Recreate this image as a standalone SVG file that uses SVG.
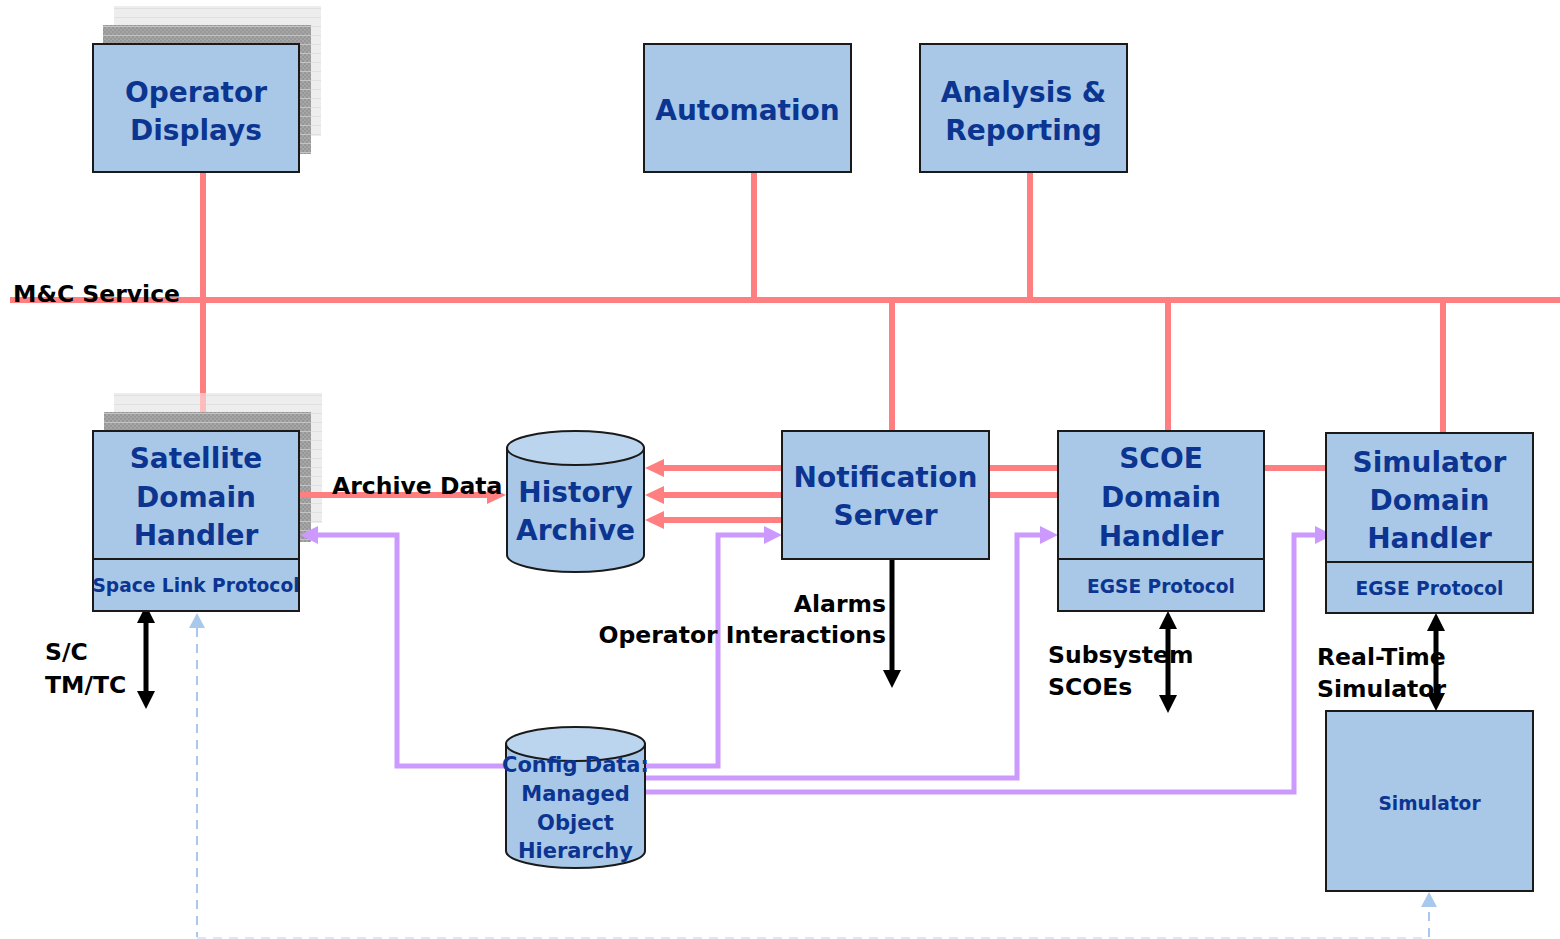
<svg xmlns="http://www.w3.org/2000/svg" width="1560" height="939" viewBox="0 0 1560 939">
  <style>
    .box { fill: #a9c8e8; stroke: #1a1a1a; stroke-width: 2; }
    .cyl { fill: #a9c8e8; stroke: #1a1a1a; stroke-width: 2; }
    .cyltop { fill: #bcd5ee; stroke: #1a1a1a; stroke-width: 2; }
    .big { font-family: "DejaVu Sans", "Liberation Sans", sans-serif; font-weight: bold; font-size: 28px; fill: #0b3590; text-anchor: middle; }
    .mid { font-family: "DejaVu Sans", "Liberation Sans", sans-serif; font-weight: bold; font-size: 21px; fill: #0b3590; text-anchor: middle; }
    .small { font-family: "DejaVu Sans", "Liberation Sans", sans-serif; font-weight: bold; font-size: 18.6px; fill: #0b3590; text-anchor: middle; }
    .lbl { font-family: "DejaVu Sans", "Liberation Sans", sans-serif; font-weight: bold; font-size: 23.5px; fill: #000; }
    .bus { stroke: #ff7f80; stroke-width: 6; fill: none; }
    .bus-faint { stroke: #ffbcbc; stroke-width: 6; fill: none; }
    .cfg { stroke: #cc99ff; stroke-width: 5; fill: none; }
    .blk { stroke: #000; stroke-width: 5; fill: none; }
    .dash { stroke: #a8c8ec; stroke-width: 2; stroke-dasharray: 9 7; fill: none; }
    .dash-faint { stroke: #dde7f5; stroke-width: 2; stroke-dasharray: 9 7; fill: none; }
    .redhead { fill: #ff7f80; }
    .purhead { fill: #cc99ff; }
    .blkhead { fill: #000; }
    .bluehead { fill: #a8c8ec; }
    .back { fill: url(#lightStack); }
    .mid-stack { fill: url(#darkStack); }
  </style>
  <defs>
    <pattern id="lightStack" width="6" height="9" patternUnits="userSpaceOnUse">
      <rect width="6" height="9" fill="#ededed"/>
      <rect y="8" width="6" height="1" fill="#e0e0e0"/>
    </pattern>
    <pattern id="darkStack" width="4" height="9" patternUnits="userSpaceOnUse">
      <rect width="4" height="9" fill="#a6a6a6"/>
      <rect x="0" y="0" width="2" height="2" fill="#979797"/>
      <rect x="2" y="2" width="2" height="2" fill="#979797"/>
      <rect x="0" y="4" width="2" height="2" fill="#979797"/>
      <rect x="2" y="6" width="2" height="2" fill="#979797"/>
      <rect y="8" width="4" height="1" fill="#c4c4c4"/>
    </pattern>
  </defs>

  <rect width="1560" height="939" fill="#ffffff"/>

  <!-- stacked-window backdrops behind the multi-instance nodes -->
  <g id="stack-backdrops">
    <rect class="back" x="114" y="6" width="207" height="130"/>
    <rect class="mid-stack" x="103" y="25" width="208" height="129"/>
    <rect class="back" x="114" y="393" width="208" height="130"/>
    <rect class="mid-stack" x="104" y="412" width="207" height="130"/>
  </g>

  <!-- connectors -->
  <g id="connectors">
    <!-- M&C service bus and drops -->
    <line class="bus" x1="10" y1="300" x2="1560" y2="300"/>
    <line class="bus" x1="203" y1="172" x2="203" y2="393"/>
    <line class="bus-faint" x1="203" y1="393" x2="203" y2="412"/>
    <line class="bus" x1="754" y1="172" x2="754" y2="300"/>
    <line class="bus" x1="1030" y1="172" x2="1030" y2="300"/>
    <line class="bus" x1="892" y1="300" x2="892" y2="431"/>
    <line class="bus" x1="1168" y1="300" x2="1168" y2="431"/>
    <line class="bus" x1="1443" y1="300" x2="1443" y2="433"/>

    <!-- archive data flow -->
    <line class="bus" x1="299" y1="495" x2="490" y2="495"/>
    <polygon class="redhead" points="506,495 487,486 487,504"/>
    <line class="bus" x1="782" y1="468" x2="660" y2="468"/>
    <polygon class="redhead" points="645,468 664,459 664,477"/>
    <line class="bus" x1="782" y1="495" x2="660" y2="495"/>
    <polygon class="redhead" points="645,495 664,486 664,504"/>
    <line class="bus" x1="782" y1="520" x2="660" y2="520"/>
    <polygon class="redhead" points="645,520 664,511 664,529"/>

    <!-- server to handler links -->
    <line class="bus" x1="989" y1="468" x2="1058" y2="468"/>
    <line class="bus" x1="989" y1="495" x2="1058" y2="495"/>
    <line class="bus" x1="1264" y1="468" x2="1326" y2="468"/>

    <!-- configuration data distribution -->
    <polyline class="cfg" points="506,766 397,766 397,535 314,535"/>
    <polygon class="purhead" points="300,535 318,526 318,544"/>
    <polyline class="cfg" points="645,766 718,766 718,535 768,535"/>
    <polygon class="purhead" points="782,535 764,526 764,544"/>
    <polyline class="cfg" points="645,778 1017,778 1017,535 1044,535"/>
    <polygon class="purhead" points="1058,535 1040,526 1040,544"/>
    <polyline class="cfg" points="645,792 1294,792 1294,535 1318,535"/>
    <polygon class="purhead" points="1333,535 1315,526 1315,544"/>

    <!-- external interfaces -->
    <line class="blk" x1="146" y1="620" x2="146" y2="695"/>
    <polygon class="blkhead" points="146,605 137,623 155,623"/>
    <polygon class="blkhead" points="146,709 137,691 155,691"/>
    <line class="blk" x1="892" y1="559" x2="892" y2="674"/>
    <polygon class="blkhead" points="892,688 883,670 901,670"/>
    <line class="blk" x1="1168" y1="626" x2="1168" y2="698"/>
    <polygon class="blkhead" points="1168,611 1159,629 1177,629"/>
    <polygon class="blkhead" points="1168,713 1159,695 1177,695"/>
    <line class="blk" x1="1436" y1="628" x2="1436" y2="696"/>
    <polygon class="blkhead" points="1436,613 1427,631 1445,631"/>
    <polygon class="blkhead" points="1436,711 1427,693 1445,693"/>

    <!-- dashed feed -->
    <polyline class="dash" points="197,628 197,937"/>
    <polyline class="dash-faint" points="197,938 1429,938"/>
    <polyline class="dash" points="1429,937 1429,906"/>
    <polygon class="bluehead" points="197,613 189,628 205,628"/>
    <polygon class="bluehead" points="1429,892 1421,907 1437,907"/>
  </g>

  <!-- nodes -->
  <g id="operator-displays">
    <rect class="box" x="93" y="44" width="206" height="128"/>
    <text class="big" x="196" y="102">Operator</text>
    <text class="big" x="196" y="140">Displays</text>
  </g>

  <g id="automation">
    <rect class="box" x="644" y="44" width="207" height="128"/>
    <text class="big" x="747.5" y="120">Automation</text>
  </g>

  <g id="analysis-reporting">
    <rect class="box" x="920" y="44" width="207" height="128"/>
    <text class="big" x="1023.5" y="102">Analysis &amp;</text>
    <text class="big" x="1023.5" y="140">Reporting</text>
  </g>

  <g id="satellite-domain-handler">
    <rect class="box" x="93" y="431" width="206" height="128"/>
    <rect class="box" x="93" y="559" width="206" height="52"/>
    <text class="big" x="196" y="468">Satellite</text>
    <text class="big" x="196" y="507">Domain</text>
    <text class="big" x="196" y="545">Handler</text>
    <text class="small" x="196" y="592">Space Link Protocol</text>
  </g>

  <g id="history-archive">
    <path class="cyl" d="M507,448 V555 A68.5,17 0 0 0 644,555 V448 Z"/>
    <ellipse class="cyltop" cx="575.5" cy="448" rx="68.5" ry="17"/>
    <text class="big" x="575.5" y="502">History</text>
    <text class="big" x="575.5" y="540">Archive</text>
  </g>

  <g id="notification-server">
    <rect class="box" x="782" y="431" width="207" height="128"/>
    <text class="big" x="885.5" y="487">Notification</text>
    <text class="big" x="885.5" y="525">Server</text>
  </g>

  <g id="scoe-domain-handler">
    <rect class="box" x="1058" y="431" width="206" height="128"/>
    <rect class="box" x="1058" y="559" width="206" height="52"/>
    <text class="big" x="1161" y="468">SCOE</text>
    <text class="big" x="1161" y="507">Domain</text>
    <text class="big" x="1161" y="546">Handler</text>
    <text class="small" x="1161" y="593">EGSE Protocol</text>
  </g>

  <g id="simulator-domain-handler">
    <rect class="box" x="1326" y="433" width="207" height="129"/>
    <rect class="box" x="1326" y="562" width="207" height="51"/>
    <text class="big" x="1429.5" y="472">Simulator</text>
    <text class="big" x="1429.5" y="510">Domain</text>
    <text class="big" x="1429.5" y="548">Handler</text>
    <text class="small" x="1429.5" y="595">EGSE Protocol</text>
  </g>

  <g id="simulator">
    <rect class="box" x="1326" y="711" width="207" height="180"/>
    <text class="small" x="1429.5" y="810">Simulator</text>
  </g>

  <g id="config-data">
    <path class="cyl" d="M506,744 V851 A69.5,17 0 0 0 645,851 V744 Z"/>
    <ellipse class="cyltop" cx="575.5" cy="744" rx="69.5" ry="17"/>
    <text class="mid" x="575.5" y="772">Config Data:</text>
    <text class="mid" x="575.5" y="801">Managed</text>
    <text class="mid" x="575.5" y="830">Object</text>
    <text class="mid" x="575.5" y="858">Hierarchy</text>
  </g>

  <!-- labels -->
  <g id="labels">
    <text class="lbl" x="13" y="302">M&amp;C Service</text>
    <text class="lbl" x="332" y="494">Archive Data</text>
    <text class="lbl" x="45" y="660">S/C</text>
    <text class="lbl" x="45" y="693">TM/TC</text>
    <text class="lbl" x="886" y="612" text-anchor="end">Alarms</text>
    <text class="lbl" x="886" y="643" text-anchor="end">Operator Interactions</text>
    <text class="lbl" x="1048" y="663">Subsystem</text>
    <text class="lbl" x="1048" y="695">SCOEs</text>
    <text class="lbl" x="1317" y="665">Real-Time</text>
    <text class="lbl" x="1317" y="697">Simulator</text>
  </g>
</svg>
